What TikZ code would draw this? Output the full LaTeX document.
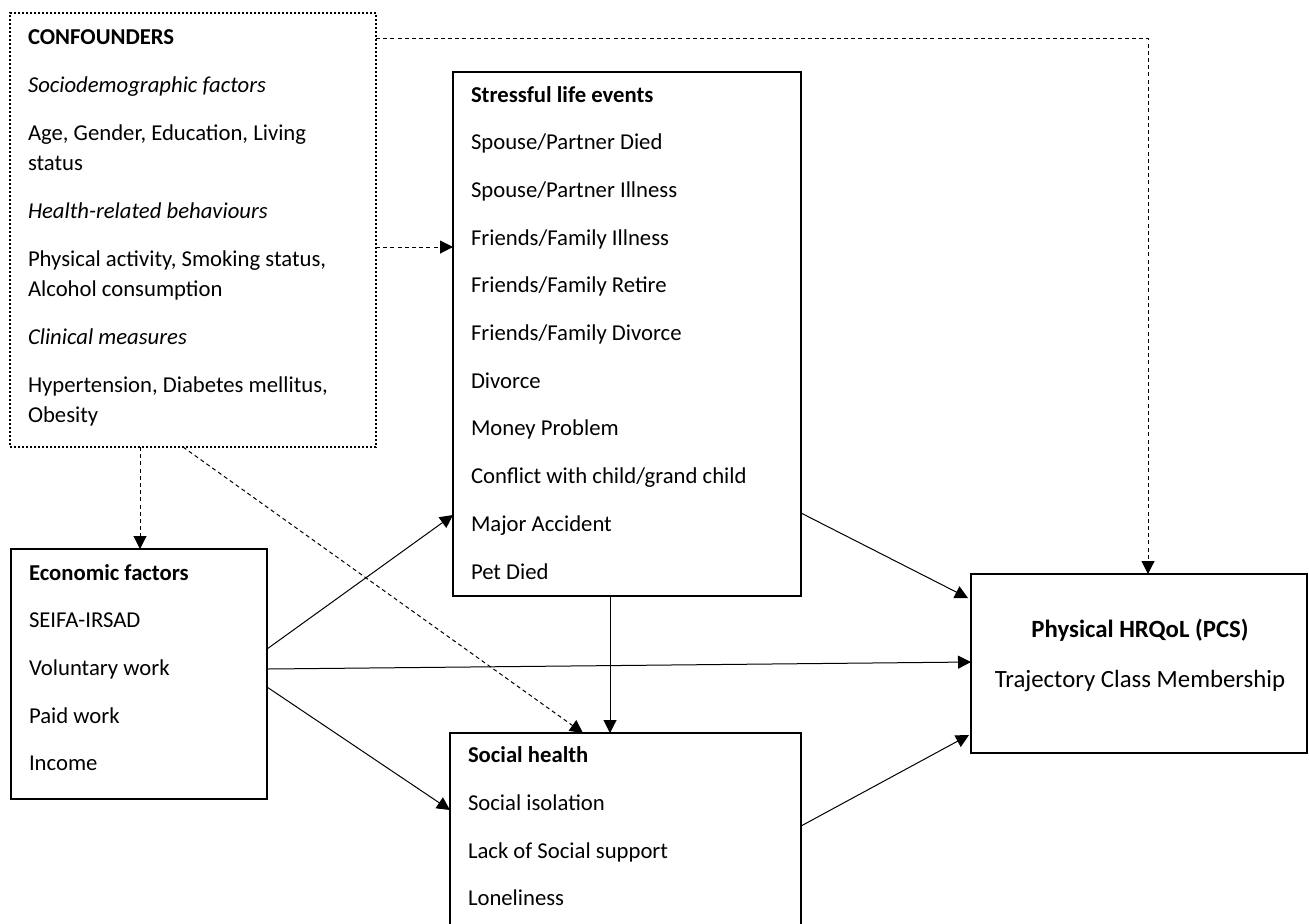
\documentclass[tikz,border=0pt]{standalone}
\usepackage{fontspec}
\setmainfont{Carlito}
\usetikzlibrary{arrows.meta,calc}
\begin{document}
\begin{tikzpicture}[x=0.5pt,y=-0.5pt,
  box/.style={draw, line width=1pt, inner sep=0pt, outer sep=0pt, anchor=north west},
  dotbox/.style={box, dash pattern=on 1pt off 1pt},
  txt/.style={inner sep=0pt, outer sep=0pt, anchor=base west},
  arr/.style={line width=0.5pt, -{Triangle[length=6.5pt,width=6.5pt]}},
  darr/.style={arr, dash pattern=on 2pt off 1.6pt}]
\useasboundingbox (0,0) rectangle (1309,923);

% boxes
\node[dotbox, minimum width=183pt, minimum height=217pt] (conf) at (10,13) {};
\node[box, minimum width=174pt, minimum height=262pt] (stress) at (453,72) {};
\node[box, minimum width=128pt, minimum height=125pt] (econ) at (11,549) {};
\node[box, minimum width=175.5pt, minimum height=96pt] (social) at (450,733) {};
\node[box, minimum width=168pt, minimum height=89.5pt] (phys) at (971,574) {};

% texts
\node[txt] (conft) at (28,44) {\parbox[t]{178pt}{\raggedright\fontsize{11.35}{15}\selectfont
  \textbf{CONFOUNDERS}\\[9pt]
  \textit{Sociodemographic factors}\\[9pt]
  Age, Gender, Education, Living\\
  status\\[9pt]
  \textit{Health-related behaviours}\\[9pt]
  Physical activity, Smoking status,\\
  Alcohol consumption\\[9pt]
  \textit{Clinical measures}\\[9pt]
  Hypertension, Diabetes mellitus,\\
  Obesity}};

\node[txt] (stresst) at (471,102) {\parbox[t]{170pt}{\raggedright\fontsize{11.35}{23.85}\selectfont
  \textbf{Stressful life events}\\
  Spouse/Partner Died\\
  Spouse/Partner Illness\\
  Friends/Family Illness\\
  Friends/Family Retire\\
  Friends/Family Divorce\\
  Divorce\\
  Money Problem\\
  Conflict with child/grand child\\
  Major Accident\\
  Pet Died}};

\node[txt] (econt) at (29,580) {\parbox[t]{120pt}{\raggedright\fontsize{11.35}{23.85}\selectfont
  \textbf{Economic factors}\\
  SEIFA-IRSAD\\
  Voluntary work\\
  Paid work\\
  Income}};

\node[txt] (socialt) at (468,762.7) {\parbox[t]{170pt}{\raggedright\fontsize{11.35}{23.85}\selectfont
  \textbf{Social health}\\
  Social isolation\\
  Lack of Social support\\
  Loneliness}};

\node[inner sep=0pt, outer sep=0pt, anchor=base] (physt) at (1140,637) {\parbox[t]{165pt}{\centering\fontsize{12.4}{25}\selectfont
  \textbf{Physical HRQoL (PCS)}\\
  Trajectory Class Membership}};

% dashed connectors from confounders
\draw[darr] ($(conf.north east)+(0,25)$) -| ($(phys.north west)+(177,0)$);
\draw[darr] ($(conf.north east)+(0,234)$) -- ($(stress.north west)+(0,175)$);
\draw[darr] ($(conf.south west)+(130,0)$) -- ($(econ.north west)+(129,0)$);
\draw[darr] ($(conf.south west)+(173,0)$) -- ($(social.north west)+(133,0)$);

% solid connectors
\draw[arr] ($(econ.north east)+(0,100)$) -- ($(stress.north west)+(0,443)$);
\draw[arr] ($(econ.north east)+(0,120)$) -- ($(phys.north west)+(0,88)$);
\draw[arr] ($(econ.north east)+(0,138)$) -- ($(social.north west)+(0,77)$);
\draw[arr] ($(stress.north east)+(0,441)$) -- ($(phys.north west)+(-3,24)$);
\draw[arr] ($(stress.south west)+(157,0)$) -- ($(social.north west)+(160,0)$);
\draw[arr] ($(social.north east)+(0,93)$) -- ($(phys.north west)+(-2,161)$);
\end{tikzpicture}
\end{document}
